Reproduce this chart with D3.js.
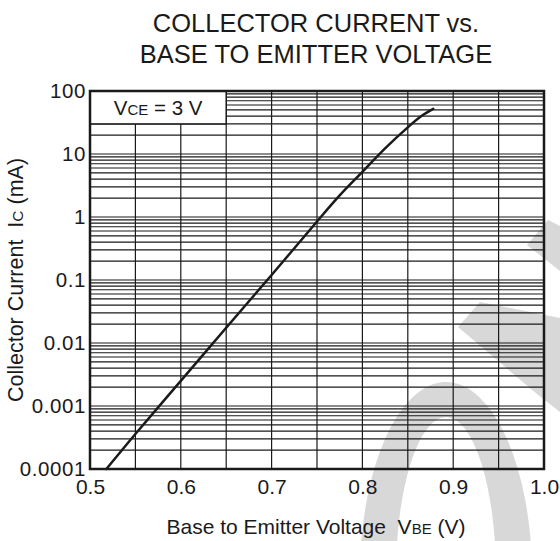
<!DOCTYPE html>
<html>
<head>
<meta charset="utf-8">
<script src="https://cdn.jsdelivr.net/npm/d3@7/dist/d3.min.js"></script>
<style>
  html, body { margin: 0; padding: 0; background: #fff; }
  svg { display: block; font-family: "Liberation Sans", Arial, Helvetica, sans-serif; }
</style>
</head>
<body>
<svg id="chart" width="560" height="541"></svg>
<script>
// ---- data ----
const vbe = [0.518, 0.55, 0.60, 0.65, 0.70, 0.75, 0.775, 0.80, 0.825, 0.85, 0.865, 0.878];
const ic  = [0.0001, 0.00036, 0.0025, 0.0175, 0.12, 0.85, 2.2, 5.2, 12.3, 26.5, 40, 52];
const xTicks = [0.5, 0.6, 0.7, 0.8, 0.9, 1.0];
const xTickLabels = ["0.5", "0.6", "0.7", "0.8", "0.9", "1.0"];
const xGrid = [0.55, 0.6, 0.65, 0.7, 0.75, 0.8, 0.85, 0.9, 0.95];
const yTicks = [0.0001, 0.001, 0.01, 0.1, 1, 10, 100];
const yTickLabels = ["0.0001", "0.001", "0.01", "0.1", "1", "10", "100"];
const titleLines = ["COLLECTOR CURRENT vs.", "BASE TO EMITTER VOLTAGE"];

// ---- layout ----
const svg = d3.select("#chart");
const L = 90, R = 544, T = 91, B = 469;
const x = d3.scaleLinear().domain([0.5, 1.0]).range([L, R]);
const y = d3.scaleLog().domain([0.0001, 100]).range([B, T]);
const ink = "#1a1a1a";

// watermark (decoration, pixel space)
const wm = svg.append("g").attr("fill", "#d8d8d8");
wm.append("path")
  .attr("fill-rule", "evenodd")
  .attr("d", (() => {
    const cx = 446, cy = 575;
    const e = (rx, ry) => `M${cx - rx},${cy} a${rx},${ry} 0 1,0 ${2*rx},0 a${rx},${ry} 0 1,0 ${-2*rx},0 Z`;
    return e(86, 193) + " " + e(50, 158);
  })());
wm.append("polygon").attr("points", "548,220 527,245 560,271 560,226");
wm.append("polygon").attr("points", "480,302 458,327 537,394 560,412 560,318");

// grid
const grid = svg.append("g").attr("stroke", ink).attr("stroke-width", 1.2);
const minor = [];
for (let i = 0; i < yTicks.length - 1; i++) {
  for (let m = 1; m <= 9; m++) minor.push(yTicks[i] * m);
}
grid.selectAll("line.h").data(minor.slice(1)).join("line")
  .attr("x1", L).attr("x2", R)
  .attr("y1", d => y(d)).attr("y2", d => y(d));
grid.selectAll("line.v").data(xGrid).join("line")
  .attr("y1", T).attr("y2", B)
  .attr("x1", d => x(d)).attr("x2", d => x(d));

// legend box
const box = svg.append("g");
box.append("rect")
  .attr("x", x(0.5)).attr("y", y(100))
  .attr("width", x(0.65) - x(0.5)).attr("height", y(30) - y(100))
  .attr("fill", "#fff").attr("stroke", ink).attr("stroke-width", 1.5);
const lt = box.append("text")
  .attr("x", (x(0.5) + x(0.65)) / 2).attr("y", 115)
  .attr("text-anchor", "middle").attr("font-size", 20.5).attr("fill", ink);
lt.append("tspan").text("V");
lt.append("tspan").attr("font-size", 15).text("CE");
lt.append("tspan").text(" = 3 V");

// curve
const pts = vbe.map((v, i) => [v, ic[i]]);
svg.append("path")
  .datum(pts)
  .attr("fill", "none").attr("stroke", ink).attr("stroke-width", 2.5)
  .attr("stroke-linecap", "round")
  .attr("d", d3.line().x(d => x(d[0])).y(d => y(d[1])).curve(d3.curveCatmullRom.alpha(0.5)));

// frame
svg.append("rect")
  .attr("x", L).attr("y", T).attr("width", R - L).attr("height", B - T)
  .attr("fill", "none").attr("stroke", ink).attr("stroke-width", 2.5);

// axes
const xAxis = d3.axisBottom(x).tickValues(xTicks)
  .tickFormat((d, i) => xTickLabels[i]).tickSize(0).tickPadding(10);
const gx = svg.append("g").attr("transform", `translate(0,${B})`).call(xAxis);
gx.select(".domain").remove();
gx.selectAll("text").attr("font-size", 21).attr("fill", ink)
  .attr("font-family", "'Liberation Sans', Arial, sans-serif");

const yAxis = d3.axisLeft(y).tickValues(yTicks)
  .tickFormat((d, i) => yTickLabels[i]).tickSize(0).tickPadding(4);
const gy = svg.append("g").attr("transform", `translate(${L},0)`).call(yAxis);
gy.select(".domain").remove();
gy.selectAll("text").attr("font-size", 20.5).attr("fill", ink)
  .attr("font-family", "'Liberation Sans', Arial, sans-serif")
  .attr("letter-spacing", 0.6);

// titles
svg.selectAll("text.title").data(titleLines).join("text")
  .attr("class", "title")
  .attr("x", 316).attr("y", (d, i) => 32 + i * 31)
  .attr("text-anchor", "middle").attr("font-size", 25.5).attr("fill", ink)
  .text(d => d);

// x label
const xl = svg.append("text")
  .attr("x", 316).attr("y", 534)
  .attr("text-anchor", "middle").attr("font-size", 21).attr("fill", ink);
xl.append("tspan").text("Base to Emitter Voltage\u00A0\u00A0V");
xl.append("tspan").attr("font-size", 15).text("BE");
xl.append("tspan").text(" (V)");

// y label
const yl = svg.append("text")
  .attr("transform", "translate(23,280) rotate(-90)")
  .attr("text-anchor", "middle").attr("font-size", 21.5).attr("fill", ink);
yl.append("tspan").text("Collector Current\u00A0\u00A0I");
yl.append("tspan").attr("font-size", 15.5).text("C");
yl.append("tspan").text(" (mA)");
</script>
</body>
</html>
